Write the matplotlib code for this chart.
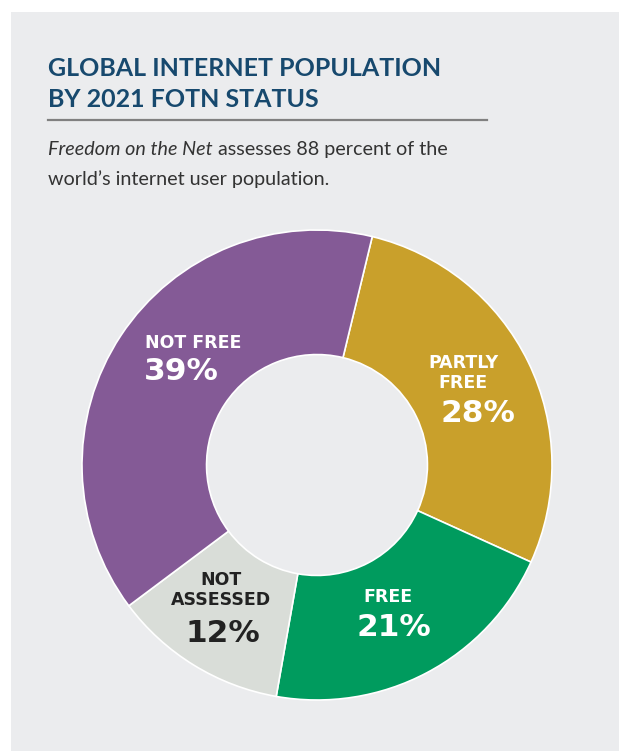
import matplotlib
matplotlib.use("Agg")
import matplotlib.pyplot as plt
from matplotlib.patches import Rectangle

# ---- data ----
categories = ["PARTLY\nFREE", "FREE", "NOT\nASSESSED", "NOT FREE"]
shares = [28, 21, 12, 39]
colors = ["#c9a02b", "#009b5e", "#d9ddd8", "#845a96"]
text_colors = ["white", "white", "#222222", "white"]
title_lines = ["GLOBAL INTERNET POPULATION", "BY 2021 FOTN STATUS"]

W, H = 619, 751
fig = plt.figure(figsize=(W / 100, H / 100), dpi=100)
fig.patch.set_facecolor("white")

def fx(px):
    return px / W

def fy(py):
    return 1 - py / H

# gray panel
fig.patches.append(Rectangle((fx(11), 0), 1 - fx(11), fy(12), transform=fig.transFigure,
                             facecolor="#ebecee", edgecolor="none", zorder=-5))

# title
for i, yy in enumerate([76, 107]):
    fig.text(fx(48), fy(yy), title_lines[i], fontsize=18, fontweight="bold", family="Lato",
             color="#17496e", va="baseline", ha="left")
# rule
fig.add_artist(plt.Line2D([fx(48), fx(487)], [fy(119.5), fy(119.5)], transform=fig.transFigure,
                          color="#808080", lw=1.6))
# subtitle
sub_fs = 14.2
t1 = fig.text(fx(48), fy(155), "Freedom on the Net", fontsize=sub_fs, style="italic", family="Lato",
              color="#333333", va="baseline", ha="left")
fig.canvas.draw()
bb = t1.get_window_extent()
fig.text(bb.x1 / W + fx(5), fy(155), "assesses 88 percent of the", fontsize=sub_fs, family="Lato",
         color="#333333", va="baseline", ha="left")
fig.text(fx(48), fy(185), "world\u2019s internet user population.", fontsize=sub_fs, family="Lato",
         color="#333333", va="baseline", ha="left")

# donut
cx, cy, R = 317, 465, 235
ax = fig.add_axes([fx(cx - R), fy(cy + R), 2 * R / W, 2 * R / H])
ax.set_facecolor("none")
wedges, _ = ax.pie(shares, colors=colors, startangle=76.4, counterclock=False,
                   radius=1.0, wedgeprops=dict(width=0.53, edgecolor="white", linewidth=1.2))
ax.set_xlim(-1, 1)
ax.set_ylim(-1, 1)
ax.set_aspect("equal")
ax.axis("off")

def d(px, py):
    return ((px - cx) / R, (cy - py) / R)

lab_fs = 12.5
pct_fs = 22.5
lab_font = "DejaVu Sans"

# NOT FREE
x, y = d(193, 343)
ax.text(x, y, categories[3], ha="center", va="center", fontsize=lab_fs, fontweight="bold",
        family=lab_font, color=text_colors[3])
x, y = d(181, 372)
ax.text(x, y, f"{shares[3]}%", ha="center", va="center", fontsize=pct_fs, fontweight="bold",
        family=lab_font, color=text_colors[3])
# PARTLY FREE
x, y = d(463, 373)
ax.text(x, y, categories[0], ha="center", va="center", fontsize=lab_fs, fontweight="bold",
        family=lab_font, color=text_colors[0], linespacing=1.2)
x, y = d(478, 413)
ax.text(x, y, f"{shares[0]}%", ha="center", va="center", fontsize=pct_fs, fontweight="bold",
        family=lab_font, color=text_colors[0])
# FREE
x, y = d(388, 597)
ax.text(x, y, categories[1], ha="center", va="center", fontsize=lab_fs, fontweight="bold",
        family=lab_font, color=text_colors[1])
x, y = d(394, 627)
ax.text(x, y, f"{shares[1]}%", ha="center", va="center", fontsize=pct_fs, fontweight="bold",
        family=lab_font, color=text_colors[1])
# NOT ASSESSED
x, y = d(221, 590)
ax.text(x, y, categories[2], ha="center", va="center", fontsize=lab_fs, fontweight="bold",
        family=lab_font, color=text_colors[2], linespacing=1.2)
x, y = d(223, 633)
ax.text(x, y, f"{shares[2]}%", ha="center", va="center", fontsize=pct_fs, fontweight="bold",
        family=lab_font, color=text_colors[2])

fig.savefig("out.png", dpi=100, facecolor=fig.get_facecolor())
